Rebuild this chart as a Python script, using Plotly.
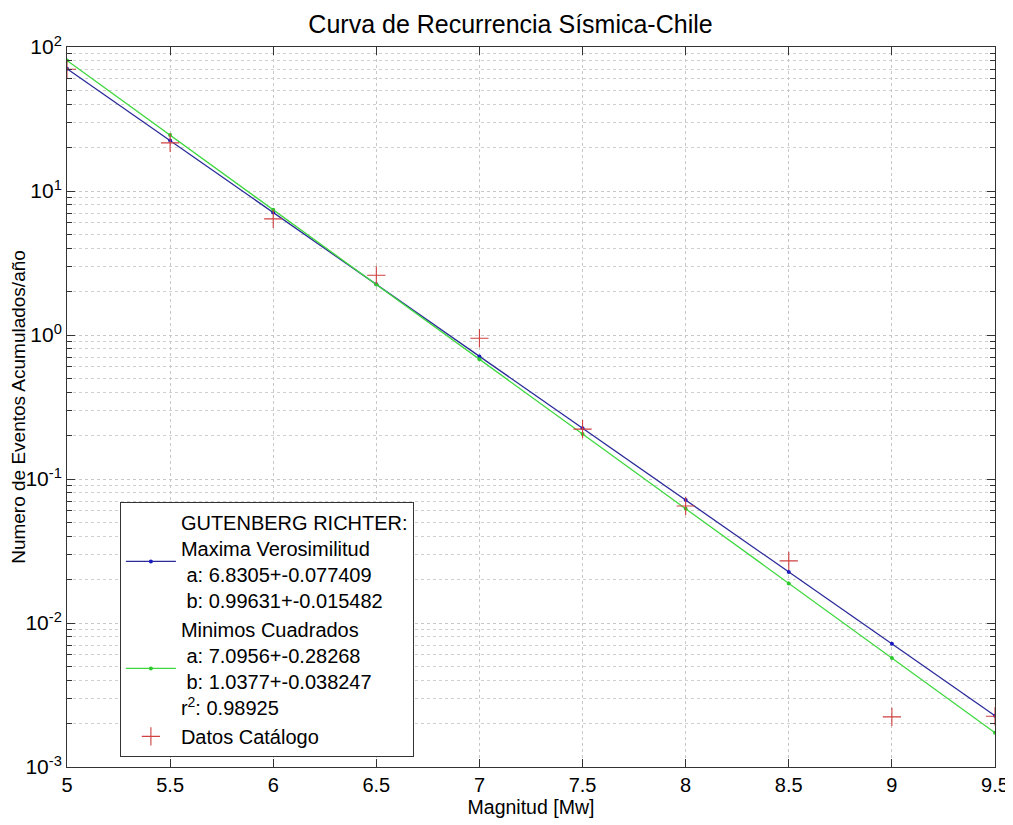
import plotly.graph_objects as go

magnitudes = [5.0, 5.5, 6.0, 6.5, 7.0, 7.5, 8.0, 8.5, 9.0, 9.5]
max_veros = [70.6, 22.4, 7.09, 2.25, 0.71, 0.225, 0.0714, 0.0226, 0.00717, 0.00227]
min_cuad = [80.7, 24.5, 7.40, 2.24, 0.679, 0.2055, 0.0622, 0.0188, 0.00571, 0.00173]
catalogo = [70.0, 21.6, 6.4, 2.6, 0.95, 0.222, 0.065, 0.027, 0.00223, 0.00225]

name_mv = "GUTENBERG RICHTER:<br>Maxima Verosimilitud<br> a: 6.8305+-0.077409<br> b: 0.99631+-0.015482"
name_mc = "Minimos Cuadrados<br> a: 7.0956+-0.28268<br> b: 1.0377+-0.038247<br>r<sup>2</sup>: 0.98925"
name_dc = "Datos Catálogo"

y_tickvals = [1e-3, 1e-2, 1e-1, 1, 10, 100]
y_ticktext = ["10<sup>-3</sup>", "10<sup>-2</sup>", "10<sup>-1</sup>", "10<sup>0</sup>", "10<sup>1</sup>", "10<sup>2</sup>"]
x_tickvals = [5, 5.5, 6, 6.5, 7, 7.5, 8, 8.5, 9, 9.5]
x_ticktext = ["5", "5.5", "6", "6.5", "7", "7.5", "8", "8.5", "9", "9.5"]
minor_vals = [k * 10.0 ** e for e in range(-3, 2) for k in range(2, 10)]

fig = go.Figure()
fig.add_trace(go.Scatter(x=magnitudes, y=max_veros, mode="lines+markers", name=name_mv,
                         line=dict(color="#2a2a9a", width=1.3),
                         marker=dict(size=4, color="#1a1ac0")))
fig.add_trace(go.Scatter(x=magnitudes, y=min_cuad, mode="lines+markers", name=name_mc,
                         line=dict(color="#3fd83f", width=1.3),
                         marker=dict(size=4, color="#2fc82f")))
fig.add_trace(go.Scatter(x=magnitudes, y=catalogo, mode="markers", name=name_dc,
                         marker=dict(symbol="cross-thin", size=13,
                                     line=dict(width=1.1, color="#d04040"))))

fig.update_layout(
    width=1005, height=817,
    margin=dict(l=59, r=18, t=39, b=58),
    paper_bgcolor="white", plot_bgcolor="white",
    font=dict(family="Liberation Sans, Arial, sans-serif", size=19, color="black"),
    title=dict(text="Curva de Recurrencia Sísmica-Chile", x=0.5, xanchor="center",
               y=0.98, yanchor="middle", font=dict(size=25)),
    showlegend=True,
    legend=dict(x=0.057, y=0.014, xanchor="left", yanchor="bottom",
                bgcolor="white", bordercolor="#333333", borderwidth=1,
                font=dict(size=20), valign="middle", itemwidth=50, tracegroupgap=2),
)
fig.update_xaxes(
    range=[5, 9.5], tickvals=x_tickvals, ticktext=x_ticktext, automargin=False,
    title=dict(text="Magnitud [Mw]", font=dict(size=19.5), standoff=0),
    showline=True, linecolor="#333333", linewidth=1, mirror="allticks",
    ticks="inside", ticklen=8, tickcolor="#333333",
    showgrid=True, gridcolor="#c8c8c8", griddash="dot", gridwidth=1,
    zeroline=False, tickfont=dict(size=20),
)
fig.update_yaxes(
    type="log", range=[-3, 2], tickvals=y_tickvals, ticktext=y_ticktext, automargin=False,
    title=dict(text="Numero de Eventos Acumulados/año", font=dict(size=19), standoff=0),
    showline=True, linecolor="#333333", linewidth=1, mirror="allticks",
    ticks="inside", ticklen=8, tickcolor="#333333",
    showgrid=True, gridcolor="#c8c8c8", griddash="dot", gridwidth=1,
    zeroline=False, tickfont=dict(size=21),
    minor=dict(tickvals=minor_vals, ticks="inside", ticklen=5, tickcolor="#333333",
               showgrid=True, gridcolor="#d0d0d0", griddash="dot", gridwidth=1),
)

fig.write_html("out.html")
